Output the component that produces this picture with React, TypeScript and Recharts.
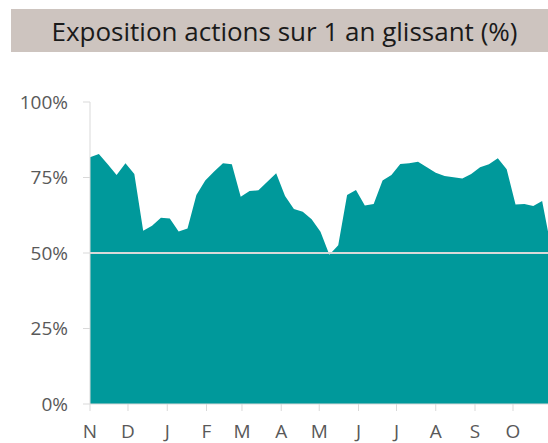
import { AreaChart, Area, XAxis, YAxis, ReferenceLine } from 'recharts';

// weekly points, day offset from 1 Nov
const days = [
  0, 7, 14, 21, 28, 35, 42, 49, 56, 63, 70, 77, 84, 91, 98, 105, 112, 119, 126, 133,
  140, 147, 154, 161, 168, 175, 182, 189, 196, 203, 210, 217, 224, 231, 238, 245, 252,
  259, 266, 273, 280, 287, 294, 301, 308, 315, 322, 329, 336, 343, 350, 357, 364,
];
const exposure = [
  81.7, 82.8, 79.4, 75.8, 79.7, 76.2, 57.4, 59.0, 61.7, 61.4, 57.1, 58.1, 69.2, 74.0,
  77.0, 79.7, 79.4, 68.6, 70.5, 70.8, 73.6, 76.4, 68.9, 64.6, 63.7, 61.2, 57.0, 49.4,
  52.6, 69.2, 70.9, 65.7, 66.2, 74.0, 75.8, 79.5, 79.7, 80.2, 78.4, 76.6, 75.5, 75.1,
  74.7, 76.2, 78.4, 79.4, 81.4, 77.7, 66.1, 66.2, 65.6, 67.2, 52.0,
];
const monthDays = [0, 30, 61, 92, 120, 151, 181, 212, 242, 273, 304, 334];
const monthLabels = ['N', 'D', 'J', 'F', 'M', 'A', 'M', 'J', 'J', 'A', 'S', 'O'];
const yTicks = [0, 25, 50, 75, 100];

const data = days.map((d, i) => ({ day: d, value: exposure[i] }));

const font = '"Open Sans", sans-serif';
const grey = '#d9d9d9';

export default function App() {
  return (
    <div style={{ position: 'fixed', left: 0, top: 0, width: 548, height: 443, overflow: 'hidden', background: '#fff', fontFamily: font }}>
      <div
        style={{
          position: 'absolute', left: 11, top: 9, width: 537, height: 43,
          background: '#cdc4bf', color: '#1a1a1a', fontSize: 26,
          display: 'flex', alignItems: 'center', justifyContent: 'center',
          paddingLeft: 10, boxSizing: 'border-box',
        }}
      >
        Exposition actions sur 1 an glissant (%)
      </div>
      <div style={{ position: 'absolute', left: 0, top: 0 }}>
        <AreaChart width={551} height={443} data={data} margin={{ top: 102, right: 0, bottom: 0, left: 0 }}>
          <XAxis
            dataKey="day"
            type="number"
            domain={[0, 364]}
            ticks={monthDays}
            tickFormatter={(v: number) => monthLabels[monthDays.indexOf(v)]}
            height={39}
            stroke={grey}
            tickSize={7}
            tickMargin={14}
            tick={{ fill: '#595959', fontSize: 19, fontFamily: font }}
            interval={0}
          />
          <YAxis
            domain={[0, 100]}
            ticks={yTicks}
            tickFormatter={(v: number) => `${v}%`}
            width={90}
            stroke={grey}
            tickSize={7}
            tickMargin={15}
            tick={{ fill: '#595959', fontSize: 19, fontFamily: font }}
            interval={0}
          />
          <Area
            type="linear"
            dataKey="value"
            stroke="none"
            fill="#00999b"
            fillOpacity={1}
            isAnimationActive={false}
          />
          <ReferenceLine y={50} stroke={grey} strokeWidth={2} />
        </AreaChart>
      </div>
    </div>
  );
}
